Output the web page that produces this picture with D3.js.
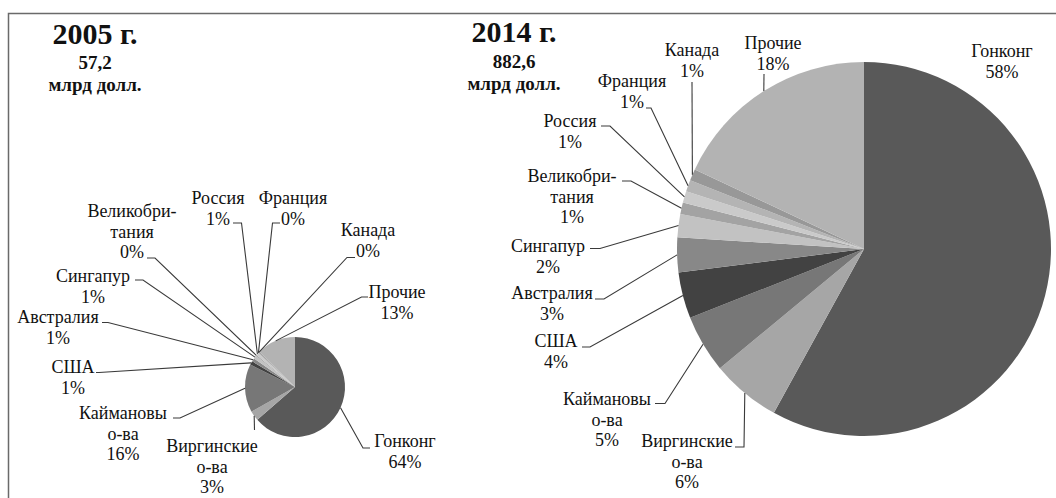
<!DOCTYPE html>
<html>
<head>
<meta charset="utf-8">
<script src="https://cdn.jsdelivr.net/npm/d3@7/dist/d3.min.js"></script>
<style>
  html, body { margin: 0; padding: 0; background: #fff; }
  svg { display: block; }
  text { font-family: "Liberation Serif", "Times New Roman", serif; fill: #111; }
</style>
</head>
<body>
<svg id="chart" width="1056" height="498"></svg>
<script>
// Direct investment destinations, shares of the total (%)
const categories = ["Гонконг", "Виргинские о-ва", "Каймановы о-ва", "США", "Австралия",
                    "Сингапур", "Великобритания", "Россия", "Франция", "Канада", "Прочие"];
const labelLines = [["Гонконг"], ["Виргинские", "о-ва"], ["Каймановы", "о-ва"], ["США"], ["Австралия"],
                    ["Сингапур"], ["Великобри-", "тания"], ["Россия"], ["Франция"], ["Канада"], ["Прочие"]];
const share2005 = [63.6, 3.2, 15.6, 1.2, 1.1, 1.0, 0.4, 0.7, 0.3, 0.3, 12.6];
const share2014 = [58, 6, 5, 4, 3, 2, 1, 1, 1, 1, 18];
const years = ["2005 г.", "2014 г."];
const totals = ["57,2", "882,6"];
const unit = "млрд долл.";

// Slice fills, in category order
const fills = ["#595959", "#a6a6a6", "#777777", "#424242", "#888888",
               "#c2c2c2", "#a3a3a3", "#cacaca", "#b4b4b4", "#989898", "#b3b3b3"];

// Placement of each pie and its callouts: text anchor (x, first baseline),
// elbow point of the leader and where its short horizontal ends.
const layout = [
  {
    cx: 295, cy: 387, r: 50, title: [95, 44], total: 69, unitY: 91,
    labels: [
      { x: 405, y: 447, knee: [363, 448], end: 370 },
      { x: 212, y: 452, knee: [254.5, 430], end: 254.5 },
      { x: 123, y: 419, knee: [180, 418], end: 173 },
      { x: 73,  y: 373, knee: [99, 372.5], end: 96 },
      { x: 58,  y: 323, knee: [108, 322.5], end: 102 },
      { x: 93,  y: 282, knee: [143, 280], end: 135 },
      { x: 132, y: 217, knee: [155, 258], end: 147 },
      { x: 218, y: 204, knee: [241.5, 223], end: 233 },
      { x: 293, y: 204, knee: [272.5, 223], end: 280 },
      { x: 368, y: 236, knee: [347, 257.5], end: 355 },
      { x: 397, y: 298, knee: [361.5, 297], end: 368 }
    ]
  },
  {
    cx: 864, cy: 249, r: 187, title: [514, 42], total: 68, unitY: 90,
    labels: [
      { x: 1002, y: 57, knee: null },
      { x: 687, y: 447, knee: [744, 447], end: 735 },
      { x: 607, y: 405, knee: [665, 403.5], end: 655 },
      { x: 556, y: 347, knee: [590, 347], end: 582 },
      { x: 552, y: 299, knee: [604, 299], end: 595 },
      { x: 548, y: 252, knee: [600, 248.5], end: 590 },
      { x: 572, y: 182, knee: [631, 181], end: 622 },
      { x: 570, y: 127, knee: [610, 126], end: 601 },
      { x: 632, y: 87,  knee: [651, 108], end: 646 },
      { x: 692, y: 56,  knee: [692, 82], end: 692 },
      { x: 773, y: 49,  knee: [764, 74], end: 764 }
    ]
  }
];

const svg = d3.select("#chart");

// Frame
svg.append("path")
  .attr("d", "M8.5,500 L8.5,13.5 L1060,13.5")
  .attr("fill", "none")
  .attr("stroke", "#6a6a6a")
  .attr("stroke-width", 1.5);

const pie = d3.pie().sort(null).value(d => d);
const lineHeight = 20.7;
const pct = d3.format(".0f");

[share2005, share2014].forEach((shares, i) => {
  const L = layout[i];
  const g = svg.append("g");

  // Headline: year, total and unit
  g.append("text").attr("x", L.title[0]).attr("y", L.title[1])
    .attr("text-anchor", "middle").attr("font-weight", "bold").attr("font-size", 30)
    .text(years[i]);
  g.append("text").attr("x", L.title[0]).attr("y", L.total)
    .attr("text-anchor", "middle").attr("font-weight", "bold").attr("font-size", 19)
    .text(totals[i]);
  g.append("text").attr("x", L.title[0]).attr("y", L.unitY)
    .attr("text-anchor", "middle").attr("font-weight", "bold").attr("font-size", 19)
    .text(unit);

  const arcs = pie(shares);
  const arc = d3.arc().innerRadius(0).outerRadius(L.r);

  const slices = g.append("g").attr("transform", `translate(${L.cx},${L.cy})`);
  slices.selectAll("path")
    .data(arcs)
    .join("path")
    .attr("d", arc)
    .attr("fill", (d, k) => fills[k]);

  // Leader lines: from the rim at the slice's mid-angle to the label
  const leaders = g.append("g")
    .attr("fill", "none").attr("stroke", "#3a3a3a").attr("stroke-width", 1.1);
  arcs.forEach((a, k) => {
    const lab = L.labels[k];
    if (!lab.knee) return;
    const mid = (a.startAngle + a.endAngle) / 2;
    const px = L.cx + L.r * Math.sin(mid);
    const py = L.cy - L.r * Math.cos(mid);
    leaders.append("path")
      .attr("d", d3.line()([[px, py], lab.knee, [lab.end, lab.knee[1]]]));
  });

  // Callout text: name lines followed by the rounded share
  arcs.forEach((a, k) => {
    const lab = L.labels[k];
    const lines = labelLines[k].concat([pct(Math.round(shares[k])) + "%"]);
    const t = g.append("text")
      .attr("text-anchor", "middle")
      .attr("font-size", 18);
    lines.forEach((s, j) => {
      t.append("tspan").attr("x", lab.x).attr("y", lab.y + j * lineHeight).text(s);
    });
  });
});
</script>
</body>
</html>
